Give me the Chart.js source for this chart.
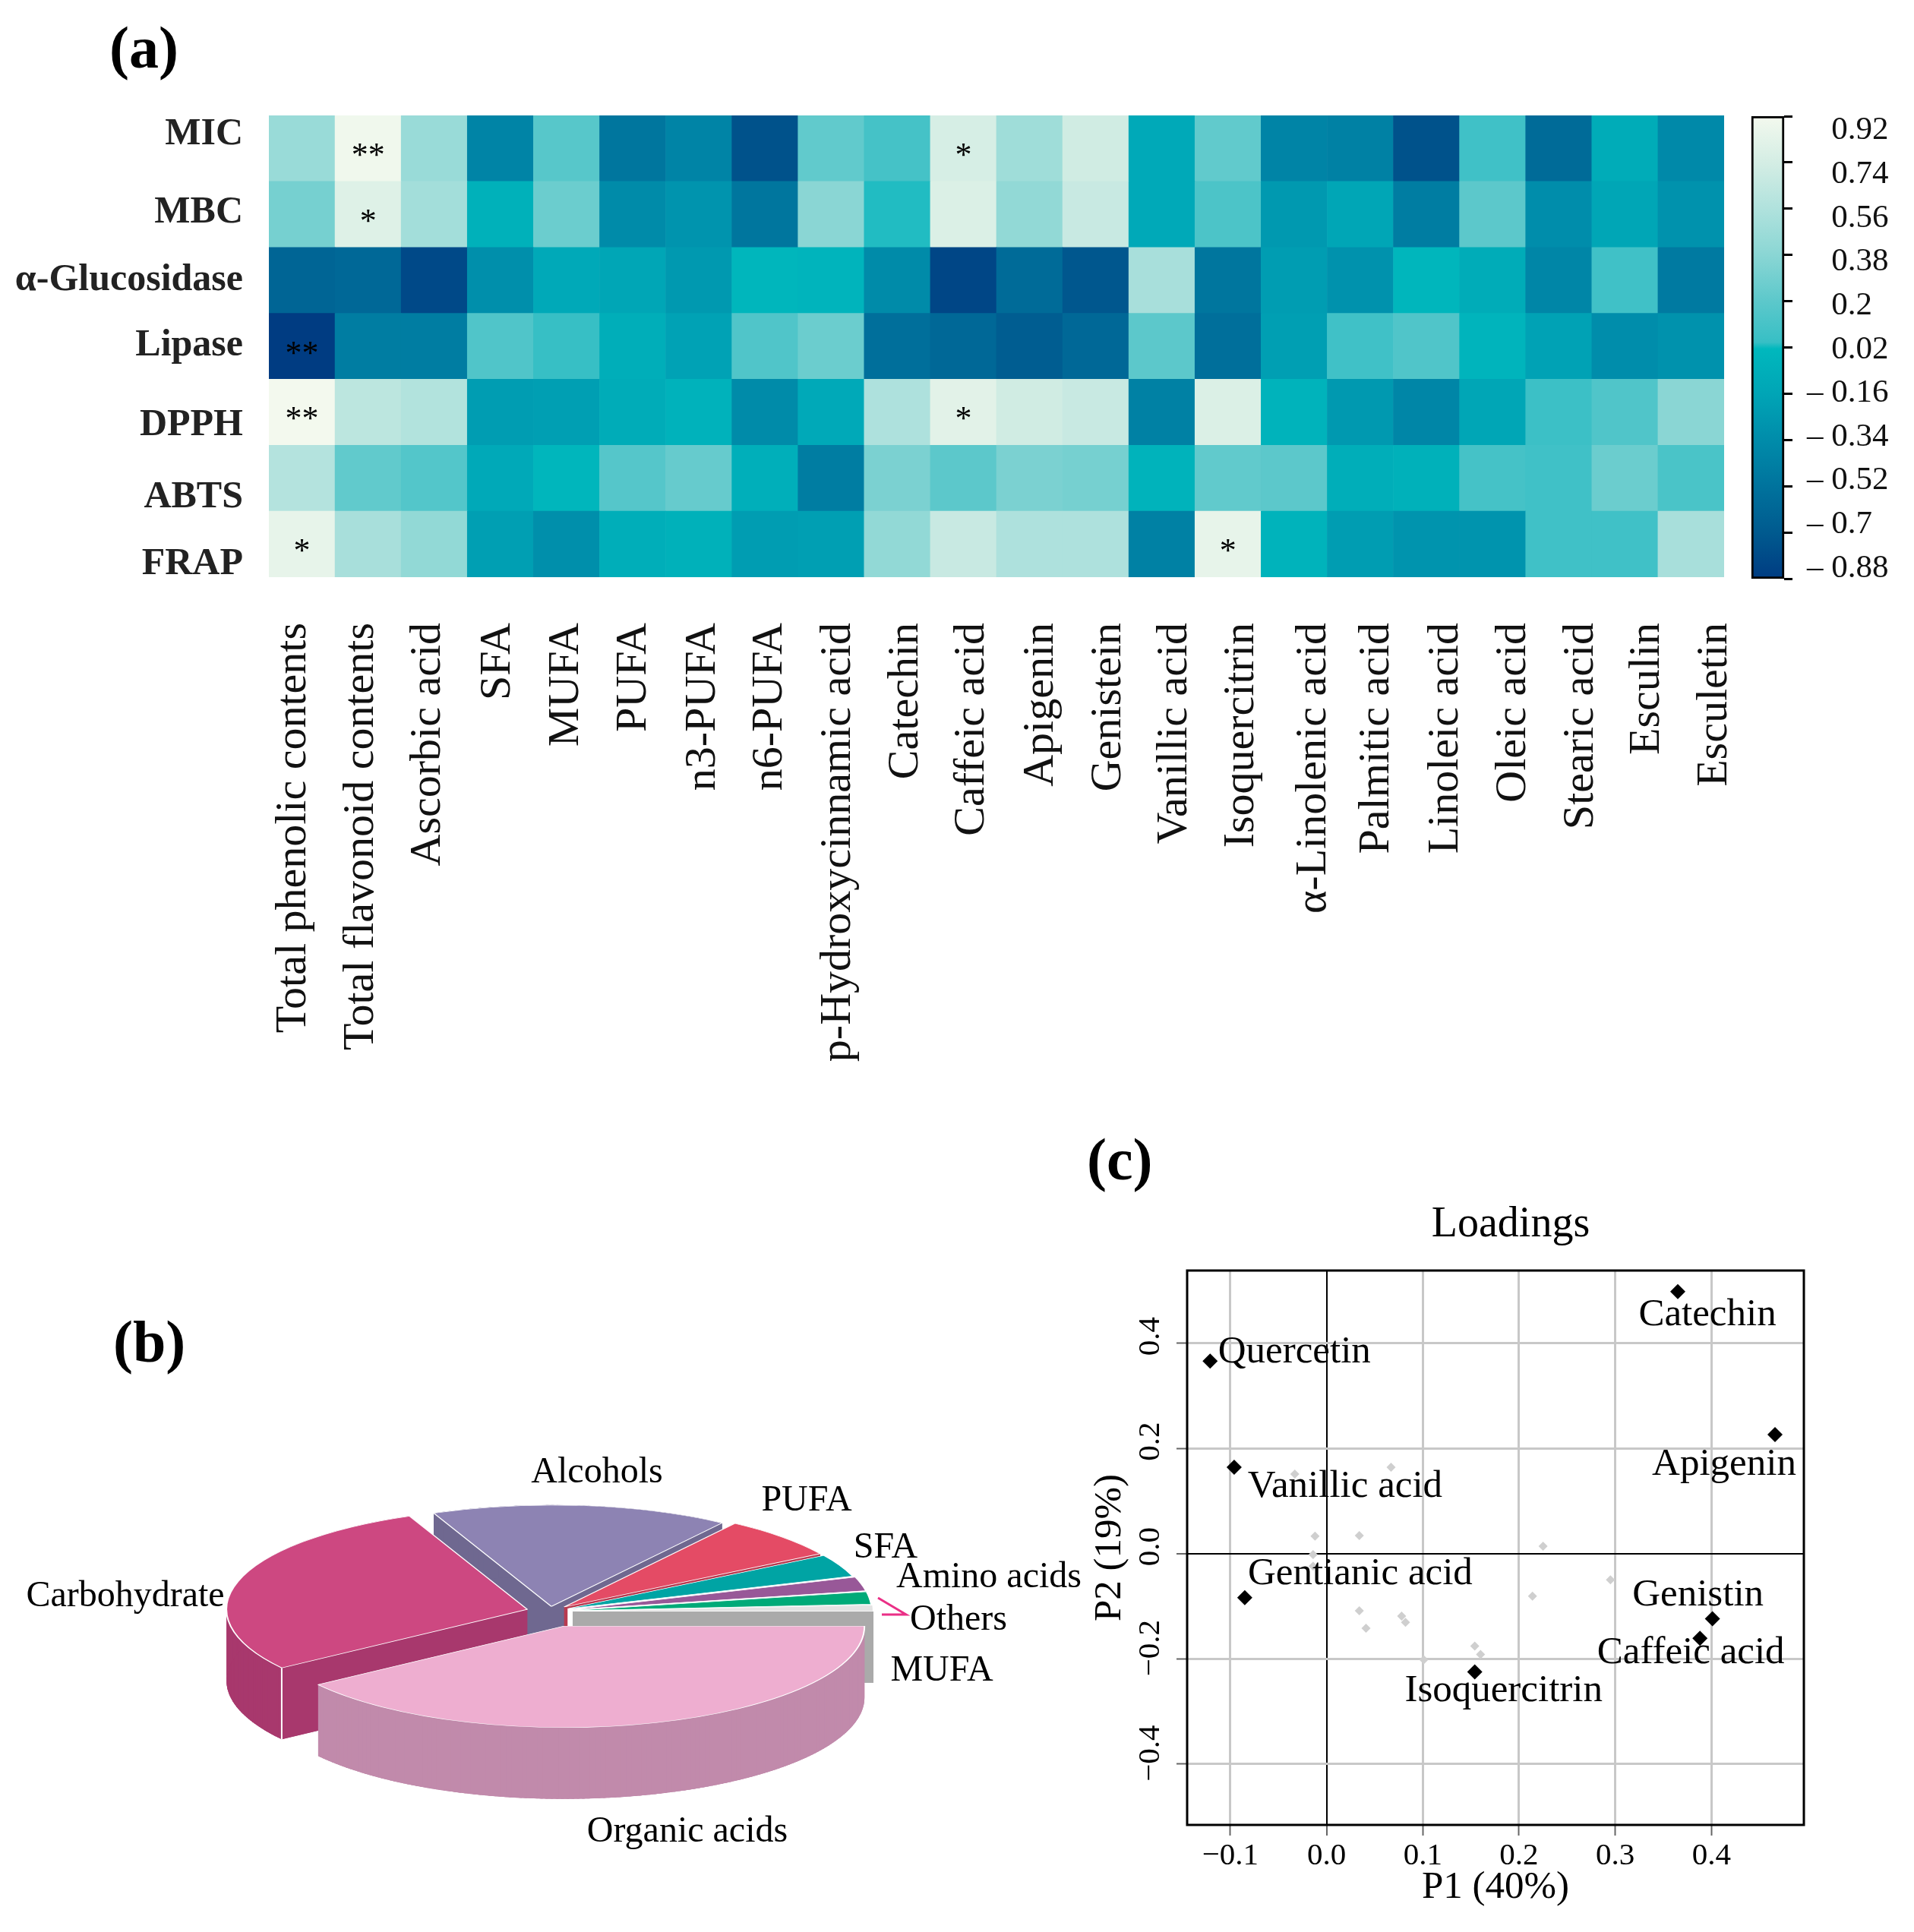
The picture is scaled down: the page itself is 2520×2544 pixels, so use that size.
<!DOCTYPE html>
<html>
<head>
<meta charset="utf-8">
<title>Correlation heatmap, composition pie and PCA loadings</title>
<script src="https://cdn.jsdelivr.net/npm/chart.js@4"></script>
<style>
    html, body { margin: 0; padding: 0; background: #fff; width: 2520px; height: 2544px; overflow: hidden; }
    canvas { position: absolute; }
    .panel-letter { position: absolute; font: bold 78px "Liberation Serif", serif; line-height: 78px; color: #000; }
</style>
</head>
<body>
<div class="panel-letter" style="left:144px;top:24px">(a)</div>
<div class="panel-letter" style="left:149px;top:1728px">(b)</div>
<div class="panel-letter" style="left:1431px;top:1488px">(c)</div>
<canvas id="heatmap" width="2290" height="1500" style="left:0;top:0"></canvas>
<canvas id="colorbar" width="230" height="720" style="left:2290px;top:100px"></canvas>
<canvas id="pie" width="1460" height="844" style="left:0;top:1700px"></canvas>
<canvas id="loadings" width="1120" height="1064" style="left:1400px;top:1480px"></canvas>

<script>
// (a) heatmap data
const colNames = ['Total phenolic contents', 'Total flavonoid contents', 'Ascorbic acid', 'SFA', 'MUFA', 'PUFA',
    'n3-PUFA', 'n6-PUFA', 'p-Hydroxycinnamic acid', 'Catechin', 'Caffeic acid', 'Apigenin', 'Genistein',
    'Vanillic acid', 'Isoquercitrin', 'α-Linolenic acid', 'Palmitic acid', 'Linoleic acid', 'Oleic acid',
    'Stearic acid', 'Esculin', 'Esculetin'];
const rowNames = ['MIC', 'MBC', 'α-Glucosidase', 'Lipase', 'DPPH', 'ABTS', 'FRAP'];
const micValues = [0.45, 0.90, 0.45, -0.40, 0.18, -0.50, -0.40, -0.75, 0.22, 0.10, 0.75, 0.48, 0.72, -0.12, 0.22, -0.40, -0.42, -0.75, 0.08, -0.58, -0.10, -0.36];
const mbcValues = [0.30, 0.80, 0.50, -0.05, 0.26, -0.35, -0.28, -0.50, 0.38, 0.03, 0.78, 0.42, 0.68, -0.12, 0.13, -0.25, -0.15, -0.45, 0.20, -0.33, -0.15, -0.30];
const glucosidaseValues = [-0.62, -0.60, -0.80, -0.32, -0.12, -0.15, -0.25, 0.00, -0.02, -0.35, -0.82, -0.58, -0.72, 0.52, -0.50, -0.22, -0.30, 0.00, -0.10, -0.38, 0.08, -0.47];
const lipaseValues = [-0.92, -0.45, -0.45, 0.15, 0.04, -0.08, -0.18, 0.15, 0.26, -0.55, -0.60, -0.68, -0.60, 0.20, -0.55, -0.20, 0.08, 0.15, -0.02, -0.18, -0.33, -0.30];
const dpphValues = [0.92, 0.62, 0.57, -0.22, -0.20, -0.10, -0.04, -0.35, -0.12, 0.55, 0.82, 0.72, 0.68, -0.42, 0.78, -0.03, -0.25, -0.38, -0.15, 0.06, 0.15, 0.38];
const abtsValues = [0.58, 0.22, 0.16, -0.12, 0.00, 0.17, 0.24, -0.07, -0.45, 0.32, 0.20, 0.32, 0.30, -0.03, 0.22, 0.20, -0.08, -0.05, 0.10, 0.08, 0.26, 0.12];
const frapValues = [0.85, 0.52, 0.42, -0.20, -0.32, -0.08, -0.05, -0.22, -0.20, 0.42, 0.68, 0.55, 0.55, -0.42, 0.85, -0.03, -0.22, -0.28, -0.28, 0.08, 0.08, 0.52];
const rowValues = [micValues, mbcValues, glucosidaseValues, lipaseValues, dpphValues, abtsValues, frapValues];
const sigRows = [0, 1, 3, 4, 6, 0, 4, 6];
const sigCols = [1, 1, 0, 0, 0, 10, 10, 14];
const sigMarks = ['**', '*', '**', '**', '*', '*', '*', '*'];
// axis labels do not sit exactly on the cell centres in the figure
const rowLabelAt = [6.71, 5.52, 4.50, 3.51, 2.30, 1.21, 0.19];
const colLabelAt = [0.38, 1.40, 2.41, 3.47, 4.50, 5.52, 6.56, 7.58, 8.61, 9.63, 10.63, 11.67, 12.70, 13.70, 14.71, 15.80, 16.75, 17.79, 18.82, 19.84, 20.84, 21.86];

// colour scale
const scaleValues = [0.92, 0.74, 0.56, 0.38, 0.2, 0.04, 0.015, -0.16, -0.34, -0.52, -0.7, -0.88];
const scaleColors = [[243, 249, 238], [212, 237, 228], [176, 226, 221], [138, 214, 212], [92, 200, 203], [55, 191, 197],
    [0, 184, 189], [0, 165, 182], [0, 140, 170], [0, 115, 157], [0, 90, 143], [0, 60, 130]];
const colorbarTicks = [0.92, 0.74, 0.56, 0.38, 0.2, 0.02, -0.16, -0.34, -0.52, -0.7, -0.88];

// (b) pie data
const pieNames = ['Organic acids', 'Carbohydrate', 'Alcohols', 'PUFA', 'SFA', 'Amino acids', 'Others', 'MUFA'];
const pieValues = [40.2, 28.4, 16.0, 6.6, 3.6, 2.2, 2.0, 1.0];
const pieColors = ['#eeaed0', '#cd4881', '#8d83b3', '#e44b65', '#00a4a4', '#985898', '#00aa78', '#e3e3e3'];
// the narrow slices show no side face, only white gaps
const pieSideColors = ['#c18aab', '#a8386d', '#6f6890', '#b83a50', '#fff', '#fff', '#fff', '#aaaaaa'];

// (c) loadings data
const mainNames = ['Catechin', 'Quercetin', 'Apigenin', 'Vanillic acid', 'Gentianic acid', 'Genistin', 'Caffeic acid', 'Isoquercitrin'];
const mainP1 = [0.365, -0.121, 0.466, -0.096, -0.085, 0.401, 0.388, 0.154];
const mainP2 = [0.498, 0.366, 0.226, 0.164, -0.084, -0.124, -0.161, -0.225];
const otherP1 = [-0.033, 0.067, -0.012, 0.034, -0.014, -0.014, 0.225, 0.295, 0.214, 0.034, 0.041, 0.078, 0.082, 0.154, 0.16, 0.101];
const otherP2 = [0.151, 0.164, 0.033, 0.034, -0.002, -0.024, 0.014, -0.05, -0.081, -0.109, -0.142, -0.119, -0.131, -0.176, -0.192, -0.202];
const p1Ticks = [-0.1, 0, 0.1, 0.2, 0.3, 0.4];
const p2Ticks = [-0.4, -0.2, 0, 0.2, 0.4];

const SERIF = '"Liberation Serif", "Times New Roman", serif';
Chart.defaults.font.family = SERIF;
Chart.defaults.color = '#000';
Chart.defaults.animation = false;
Chart.defaults.responsive = false;
Chart.defaults.devicePixelRatio = 1;
Chart.defaults.plugins.legend.display = false;
Chart.defaults.plugins.tooltip.enabled = false;

function corrColor(v) {
    if (v >= scaleValues[0]) return `rgb(${scaleColors[0].join(',')})`;
    for (let i = 1; i < scaleValues.length; i++) {
        if (v >= scaleValues[i]) {
            const t = (v - scaleValues[i]) / (scaleValues[i - 1] - scaleValues[i]);
            const c = scaleColors[i].map((c0, k) => Math.round(c0 + (scaleColors[i - 1][k] - c0) * t));
            return `rgb(${c.join(',')})`;
        }
    }
    return `rgb(${scaleColors[scaleColors.length - 1].join(',')})`;
}

// Significance stars on top of the cells
const starsPlugin = {
    id: 'stars',
    afterDatasetsDraw(chart) {
        const { ctx, scales } = chart;
        ctx.save();
        ctx.font = `44px ${SERIF}`;
        ctx.fillStyle = '#000';
        ctx.textAlign = 'center';
        ctx.textBaseline = 'middle';
        sigMarks.forEach((mark, i) => {
            const px = scales.x.getPixelForValue(sigCols[i]);
            const py = scales.y.getPixelForValue(rowNames.length - sigRows[i] - 0.5);
            ctx.fillText(mark, px, py + 11);
        });
        ctx.restore();
    }
};

new Chart(document.getElementById('heatmap'), {
    type: 'bar',
    data: {
        labels: colNames,
        // stacked from the bottom row upwards, each cell one unit high
        datasets: rowValues.slice().reverse().map((vals, i) => ({
            label: rowNames[rowNames.length - 1 - i],
            data: vals.map(() => 1),
            backgroundColor: vals.map(corrColor),
            borderWidth: 0,
            barPercentage: 1,
            categoryPercentage: 1
        }))
    },
    options: {
        layout: { padding: { top: 152, right: 20, bottom: 0, left: 0 } },
        scales: {
            x: { stacked: true, display: false },
            colAxis: {
                type: 'linear', axis: 'x', position: 'bottom', min: 0, max: 22,
                offset: false,
                grid: { display: false, offset: false },
                border: { display: false },
                afterBuildTicks: axis => { axis.ticks = colLabelAt.map(value => ({ value })); },
                afterFit: axis => {
                    axis.height = 740;
                    axis.paddingLeft = 0;
                    axis.paddingRight = 0;
                },
                ticks: {
                    autoSkip: false, minRotation: 90, maxRotation: 90, padding: 52,
                    font: { size: 58 }, color: '#111',
                    callback: (value, index) => colNames[index]
                }
            },
            y: {
                stacked: true, min: 0, max: rowNames.length,
                grid: { display: false, drawTicks: false },
                border: { display: false },
                afterBuildTicks: axis => { axis.ticks = rowLabelAt.map(value => ({ value })); },
                afterFit: axis => { axis.width = 354; },
                ticks: {
                    autoSkip: false, padding: 34,
                    font: { size: 50, weight: 'bold' }, color: '#222',
                    callback: (value, index) => rowNames[index]
                }
            }
        }
    },
    plugins: [starsPlugin]
});

function colorbarGradient(context) {
    const { ctx, chartArea } = context.chart;
    if (!chartArea) return '#000';
    const g = ctx.createLinearGradient(0, chartArea.top, 0, chartArea.bottom);
    const top = scaleValues[0];
    const range = top - scaleValues[scaleValues.length - 1];
    scaleValues.forEach(v => g.addColorStop((top - v) / range, corrColor(v)));
    return g;
}

new Chart(document.getElementById('colorbar'), {
    type: 'bar',
    data: {
        labels: [''],
        datasets: [{
            data: [[colorbarTicks[colorbarTicks.length - 1], colorbarTicks[0]]],
            yAxisID: 'marks',
            backgroundColor: colorbarGradient,
            borderColor: '#000',
            borderWidth: 3,
            borderSkipped: false,
            barPercentage: 1,
            categoryPercentage: 1,
            clip: false
        }]
    },
    options: {
        layout: { padding: { top: 53, bottom: 58, left: 16, right: 0 } },
        scales: {
            x: { display: false },
            marks: {
                position: 'right', weight: 0, min: -0.88, max: 0.92,
                grid: { drawOnChartArea: false, color: '#000', lineWidth: 3, tickLength: 11 },
                border: { display: false },
                afterBuildTicks: axis => { axis.ticks = colorbarTicks.map(value => ({ value })); },
                afterFit: axis => { axis.width = 11; },
                ticks: { display: false }
            },
            // the printed numbers are spaced a little tighter than the tick marks
            numbers: {
                position: 'right', weight: 1, min: -0.923, max: 0.98,
                grid: { display: false },
                border: { display: false },
                afterBuildTicks: axis => { axis.ticks = colorbarTicks.map(value => ({ value })); },
                afterFit: axis => { axis.width = 160; },
                ticks: {
                    autoSkip: false, padding: 11, font: { size: 43 }, color: '#111',
                    callback: value => (value < 0 ? '– ' + String(-value) : '\u00A0\u00A0\u00A0' + String(value))
                }
            }
        }
    }
});

// Pie is drawn squashed and extruded, Chart.js only lays out the arcs
const pieSquash = 0.337;
const pieDepth = 94;
const pieExplode = [60, 31, 20, 26, 26, 28, 28, 30];
const piePaintOrder = [2, 3, 4, 5, 6, 7, 1, 0];
const pieLabelX = [905, 165, 786, 1062, 1166, 1302, 1262, 1240];
const pieLabelY = [712, 402, 239, 276, 338, 377, 433, 500];

// Side of an extruded wedge: the wedge at the bottom, both cut faces and the rim
function fillWedgeSide(ctx, ox, oy, r, a0, a1, h) {
    const fillQuad = (xa, ya, xb, yb) => {
        ctx.beginPath();
        ctx.moveTo(xa, ya);
        ctx.lineTo(xb, yb);
        ctx.lineTo(xb, yb + h);
        ctx.lineTo(xa, ya + h);
        ctx.closePath();
        ctx.fill();
    };
    ctx.beginPath();
    ctx.moveTo(ox, oy + h);
    ctx.arc(ox, oy + h, r, a0, a1);
    ctx.closePath();
    ctx.fill();
    const polar = a => [ox + Math.cos(a) * r, oy + Math.sin(a) * r];
    fillQuad(ox, oy, ...polar(a0));
    fillQuad(ox, oy, ...polar(a1));
    // rim in short steps, each one overlaps the next to avoid seams
    const step = Math.PI / 180;
    for (let a = a0; a < a1; a += step) {
        fillQuad(...polar(a), ...polar(Math.min(a + step * 1.5, a1)));
    }
}

const pie3dPlugin = {
    id: 'pie3d',
    beforeDatasetDraw(chart) {
        const ctx = chart.ctx;
        const arcs = chart.getDatasetMeta(0).data;
        const cx = arcs[0].x;
        const cy = arcs[0].y;
        ctx.save();
        ctx.translate(cx, cy);
        ctx.scale(1, pieSquash);
        ctx.translate(-cx, -cy);
        piePaintOrder.forEach(i => {
            const arc = arcs[i];
            const mid = (arc.startAngle + arc.endAngle) / 2;
            const dx = Math.cos(mid) * pieExplode[i];
            const dy = Math.sin(mid) * pieExplode[i];
            const ox = arc.x + dx;
            const oy = arc.y + dy;
            ctx.fillStyle = pieSideColors[i];
            fillWedgeSide(ctx, ox, oy, arc.outerRadius, arc.startAngle, arc.endAngle, pieDepth / pieSquash);
            if (i === 1) {
                // white front edge of the carbohydrate slice
                const ex = ox + Math.cos(arc.startAngle) * arc.outerRadius;
                const ey = oy + Math.sin(arc.startAngle) * arc.outerRadius;
                ctx.strokeStyle = '#fff';
                ctx.lineWidth = 2;
                ctx.beginPath();
                ctx.moveTo(ex, ey);
                ctx.lineTo(ex, ey + pieDepth / pieSquash);
                ctx.stroke();
            }
            ctx.save();
            ctx.translate(dx, dy);
            arc.draw(ctx);
            ctx.restore();
        });
        ctx.restore();
        return false;
    },
    afterDraw(chart) {
        const ctx = chart.ctx;
        ctx.save();
        ctx.font = `48px ${SERIF}`;
        ctx.fillStyle = '#000';
        ctx.textAlign = 'center';
        ctx.textBaseline = 'middle';
        pieNames.forEach((name, i) => ctx.fillText(name, pieLabelX[i], pieLabelY[i]));
        // leader for Others
        ctx.strokeStyle = '#ea2f86';
        ctx.lineWidth = 3;
        ctx.beginPath();
        ctx.moveTo(1156, 404);
        ctx.lineTo(1193, 426);
        ctx.lineTo(1161, 426);
        ctx.stroke();
        ctx.restore();
    }
};

new Chart(document.getElementById('pie'), {
    type: 'pie',
    data: {
        labels: pieNames,
        datasets: [{
            data: pieValues,
            backgroundColor: pieColors,
            borderColor: '#fff',
            borderWidth: 2,
            radius: 396,
            rotation: 90
        }]
    },
    options: {
        layout: { padding: { right: 12 } }
    },
    plugins: [pie3dPlugin]
});

// Loadings: point names, rotated y numbers, plot frame and the title
const nameDx = [39, 111, -67, 146, 152, -19, -12, 38];
const nameDy = [31, -12, 40, 26, -31, -31, 19, 25];

const loadingsPlugin = {
    id: 'loadingsText',
    afterDraw(chart) {
        const { ctx, scales, chartArea } = chart;
        ctx.save();
        ctx.strokeStyle = '#000';
        ctx.lineWidth = 3;
        ctx.strokeRect(chartArea.left, chartArea.top, chartArea.width, chartArea.height);
        ctx.fillStyle = '#000';
        ctx.textAlign = 'center';
        ctx.textBaseline = 'middle';
        ctx.font = `51px ${SERIF}`;
        mainNames.forEach((name, i) => {
            ctx.fillText(name, scales.x.getPixelForValue(mainP1[i]) + nameDx[i], scales.y.getPixelForValue(mainP2[i]) + nameDy[i]);
        });
        ctx.font = `56px ${SERIF}`;
        ctx.fillText('Loadings', 589, 133);
        ctx.font = `41px ${SERIF}`;
        p2Ticks.forEach(v => {
            ctx.save();
            ctx.translate(115, scales.y.getPixelForValue(v) - (v < 0 ? 14 : 9));
            ctx.rotate(-Math.PI / 2);
            ctx.fillText((v < 0 ? '−' : '') + Math.abs(v).toFixed(1), 0, 0);
            ctx.restore();
        });
        ctx.restore();
    }
};

const gridColor = c => (c.tick.value === 0 ? '#000' : '#c8c8c8');
const gridWidth = c => (c.tick.value === 0 ? 2 : 3);

new Chart(document.getElementById('loadings'), {
    type: 'scatter',
    data: {
        datasets: [{
            label: 'Other compounds',
            data: otherP1.map((x, i) => ({ x, y: otherP2[i] })),
            pointStyle: 'rectRot',
            pointRadius: 6,
            pointBackgroundColor: '#cfcfcf',
            pointBorderWidth: 0
        }, {
            label: 'Main compounds',
            data: mainP1.map((x, i) => ({ x, y: mainP2[i] })),
            pointStyle: 'rectRot',
            pointRadius: 10,
            pointBackgroundColor: '#000',
            pointBorderWidth: 0
        }]
    },
    options: {
        layout: { padding: { top: 193, right: 145, bottom: 0, left: 0 } },
        scales: {
            x: {
                type: 'linear', min: -0.1449, max: 0.496,
                grid: { color: gridColor, lineWidth: gridWidth, drawTicks: true, tickLength: 14, tickColor: '#666', tickWidth: 2 },
                border: { display: false },
                afterBuildTicks: axis => { axis.ticks = p1Ticks.map(value => ({ value })); },
                afterFit: axis => { axis.height = 141; },
                ticks: {
                    autoSkip: false, maxRotation: 0, padding: 3, font: { size: 41 },
                    callback: v => (v < 0 ? '−' : '') + Math.abs(v).toFixed(1)
                },
                title: { display: true, text: 'P1 (40%)', font: { size: 51 }, padding: { top: 0, bottom: 28 } }
            },
            y: {
                type: 'linear', min: -0.516, max: 0.538,
                grid: { color: gridColor, lineWidth: gridWidth, drawTicks: true, tickLength: 14, tickColor: '#666', tickWidth: 2 },
                border: { display: false },
                afterBuildTicks: axis => { axis.ticks = p2Ticks.map(value => ({ value })); },
                afterFit: axis => { axis.width = 163; },
                ticks: { display: false },
                title: { display: true, text: 'P2 (19%)', font: { size: 51 }, padding: { top: 31, bottom: 0 } }
            }
        }
    },
    plugins: [loadingsPlugin]
});
</script>
</body>
</html>
